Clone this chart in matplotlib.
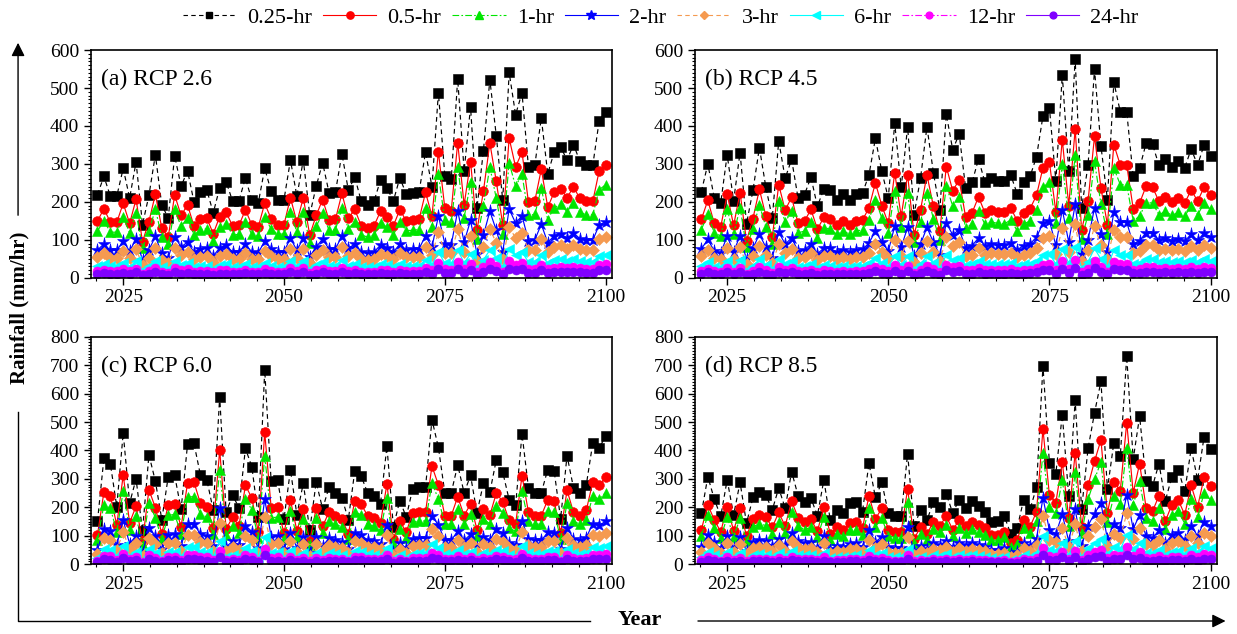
import matplotlib
matplotlib.use('Agg')
import matplotlib.pyplot as plt
from matplotlib.ticker import MultipleLocator
from matplotlib.lines import Line2D
from matplotlib.patches import FancyArrowPatch

plt.rcParams['font.family'] = ['Liberation Serif', 'DejaVu Serif']

# ===================== DATA =====================
years = list(range(2021, 2101))

# (a) RCP 2.6
r26_025 = [219, 267, 215, 215, 288, 210, 305, 140, 217, 324,
           191, 158, 321, 241, 282, 200, 226, 231, 171, 237,
           253, 202, 203, 263, 204, 197, 288, 228, 206, 206,
           310, 215, 310, 165, 241, 303, 224, 226, 327, 231,
           265, 202, 191, 202, 257, 237, 202, 263, 221, 224,
           226, 331, 240, 488, 269, 260, 524, 282, 450, 184,
           335, 522, 374, 204, 541, 430, 487, 292, 298, 421,
           274, 331, 345, 310, 351, 307, 296, 296, 414, 438]
r26_05 = [149, 182, 146, 146, 196, 143, 207, 95, 148, 220,
          130, 107, 218, 164, 192, 136, 154, 157, 116, 161,
          172, 137, 138, 179, 139, 134, 196, 155, 140, 140,
          211, 146, 211, 112, 164, 206, 152, 154, 222, 157,
          180, 137, 130, 137, 175, 161, 137, 179, 150, 152,
          154, 225, 163, 332, 183, 177, 356, 192, 306, 125,
          228, 355, 254, 139, 368, 292, 331, 199, 203, 286,
          186, 225, 235, 211, 239, 209, 201, 201, 282, 298]
r26_1 = [123, 150, 120, 120, 161, 118, 171, 78, 122, 181,
         107, 88, 180, 135, 158, 112, 127, 129, 96, 133,
         142, 113, 114, 147, 114, 110, 161, 128, 115, 115,
         174, 120, 174, 92, 135, 170, 125, 127, 183, 129,
         148, 113, 107, 113, 144, 133, 113, 147, 124, 125,
         127, 185, 134, 273, 151, 146, 293, 158, 252, 103,
         188, 292, 209, 114, 303, 241, 273, 164, 167, 236,
         153, 185, 193, 174, 197, 172, 166, 166, 232, 245]
r26_2 = [73, 89, 72, 72, 96, 70, 102, 47, 73, 109,
         64, 53, 108, 81, 94, 67, 76, 77, 57, 79,
         85, 68, 68, 88, 68, 66, 96, 76, 69, 69,
         104, 72, 104, 55, 81, 102, 75, 76, 110, 77,
         89, 68, 64, 68, 86, 79, 68, 88, 74, 75,
         76, 111, 80, 163, 90, 87, 176, 94, 151, 62,
         112, 175, 125, 68, 181, 144, 163, 98, 100, 141,
         92, 111, 116, 104, 118, 103, 99, 99, 139, 147]
r26_3 = [54, 65, 53, 53, 71, 51, 75, 34, 53, 79,
         47, 39, 79, 59, 69, 49, 55, 57, 42, 58,
         62, 49, 50, 64, 50, 48, 71, 56, 50, 50,
         76, 53, 76, 40, 59, 74, 55, 55, 80, 57,
         65, 49, 47, 49, 63, 58, 49, 64, 54, 55,
         55, 81, 59, 120, 66, 64, 128, 69, 110, 45,
         82, 128, 92, 50, 133, 105, 119, 72, 73, 103,
         67, 81, 85, 76, 86, 75, 73, 73, 101, 107]
r26_6 = [31, 37, 30, 30, 40, 29, 43, 20, 30, 45,
         27, 22, 45, 34, 39, 28, 32, 32, 24, 33,
         35, 28, 28, 37, 29, 28, 40, 32, 29, 29,
         43, 30, 43, 23, 34, 42, 31, 32, 46, 32,
         37, 28, 27, 28, 36, 33, 28, 37, 31, 31,
         32, 46, 34, 68, 38, 36, 73, 39, 63, 26,
         47, 73, 52, 29, 76, 60, 68, 41, 42, 59,
         38, 46, 48, 43, 49, 43, 41, 41, 58, 61]
r26_12 = [18, 21, 17, 17, 23, 17, 24, 11, 17, 26,
          15, 13, 26, 19, 23, 16, 18, 18, 14, 19,
          20, 16, 16, 21, 16, 16, 23, 18, 16, 16,
          25, 17, 25, 13, 19, 24, 18, 18, 26, 18,
          21, 16, 15, 16, 21, 19, 16, 21, 18, 18,
          18, 26, 19, 39, 22, 21, 42, 23, 36, 15,
          27, 42, 30, 16, 43, 34, 39, 23, 24, 34,
          22, 26, 28, 25, 28, 25, 24, 24, 33, 35]
r26_24 = [10, 12, 10, 10, 13, 9, 14, 6, 10, 15,
          9, 7, 14, 11, 13, 9, 10, 10, 8, 11,
          11, 9, 9, 12, 9, 9, 13, 10, 9, 9,
          14, 10, 14, 7, 11, 14, 10, 10, 15, 10,
          12, 9, 9, 9, 12, 11, 9, 12, 10, 10,
          10, 15, 11, 22, 12, 12, 24, 13, 20, 8,
          15, 23, 17, 9, 24, 19, 22, 13, 13, 19,
          12, 15, 16, 14, 16, 14, 13, 13, 19, 20]

# (b) RCP 4.5
r45_025 = [227, 300, 210, 197, 324, 203, 330, 142, 230, 343,
           239, 157, 360, 262, 312, 210, 219, 265, 188, 234,
           230, 204, 221, 204, 221, 223, 271, 367, 280, 210,
           407, 238, 398, 166, 262, 398, 277, 179, 431, 337,
           379, 236, 251, 313, 251, 262, 255, 254, 271, 221,
           251, 267, 319, 426, 448, 255, 535, 280, 576, 184,
           297, 549, 347, 206, 516, 437, 437, 267, 289, 354,
           352, 296, 312, 293, 308, 290, 339, 297, 350, 321]
r45_05 = [154, 204, 143, 134, 220, 138, 224, 97, 156, 233,
          163, 107, 245, 178, 212, 143, 149, 180, 128, 159,
          156, 139, 150, 139, 150, 152, 184, 250, 190, 143,
          277, 162, 271, 113, 178, 271, 188, 122, 293, 229,
          258, 160, 171, 213, 171, 178, 173, 173, 184, 150,
          171, 182, 217, 290, 305, 173, 364, 190, 392, 125,
          202, 373, 236, 140, 351, 297, 297, 182, 197, 241,
          239, 201, 212, 199, 209, 197, 231, 202, 238, 218]
r45_1 = [127, 168, 118, 110, 181, 114, 185, 80, 129, 192,
         134, 88, 202, 147, 175, 118, 123, 148, 105, 131,
         129, 114, 124, 114, 124, 125, 152, 206, 157, 118,
         228, 133, 223, 93, 147, 223, 155, 100, 241, 189,
         212, 132, 141, 175, 141, 147, 143, 142, 152, 124,
         141, 150, 179, 239, 251, 143, 300, 157, 323, 103,
         166, 307, 194, 115, 289, 245, 245, 150, 162, 198,
         197, 166, 175, 164, 172, 162, 190, 166, 196, 180]
r45_2 = [76, 101, 70, 66, 109, 68, 111, 48, 77, 115,
         80, 53, 121, 88, 105, 70, 73, 89, 63, 78,
         77, 68, 74, 68, 74, 75, 91, 123, 94, 70,
         136, 80, 133, 56, 88, 133, 93, 60, 144, 113,
         127, 79, 84, 105, 84, 88, 85, 85, 91, 74,
         84, 89, 107, 143, 150, 85, 179, 94, 193, 62,
         100, 184, 116, 69, 173, 146, 146, 89, 97, 119,
         118, 99, 105, 98, 103, 97, 114, 99, 117, 108]
r45_3 = [56, 74, 51, 48, 79, 50, 81, 35, 56, 84,
         59, 38, 88, 64, 76, 51, 54, 65, 46, 57,
         56, 50, 54, 50, 54, 55, 66, 90, 69, 51,
         100, 58, 98, 41, 64, 98, 68, 44, 106, 83,
         93, 58, 61, 77, 61, 64, 62, 62, 66, 54,
         61, 65, 78, 104, 110, 62, 131, 69, 141, 45,
         73, 135, 85, 50, 126, 107, 107, 65, 71, 87,
         86, 73, 76, 72, 75, 71, 83, 73, 86, 79]
r45_6 = [32, 42, 29, 28, 45, 28, 46, 20, 32, 48,
         33, 22, 50, 37, 44, 29, 31, 37, 26, 33,
         32, 29, 31, 29, 31, 31, 38, 51, 39, 29,
         57, 33, 56, 23, 37, 56, 39, 25, 60, 47,
         53, 33, 35, 44, 35, 37, 36, 36, 38, 31,
         35, 37, 45, 60, 63, 36, 75, 39, 81, 26,
         42, 77, 49, 29, 72, 61, 61, 37, 40, 50,
         49, 41, 44, 41, 43, 41, 47, 42, 49, 45]
r45_12 = [18, 24, 17, 16, 26, 16, 26, 11, 18, 27,
          19, 13, 29, 21, 25, 17, 18, 21, 15, 19,
          18, 16, 18, 16, 18, 18, 22, 29, 22, 17,
          33, 19, 32, 13, 21, 32, 22, 14, 34, 27,
          30, 19, 20, 25, 20, 21, 20, 20, 22, 18,
          20, 21, 26, 34, 36, 20, 43, 22, 46, 15,
          24, 44, 28, 16, 41, 35, 35, 21, 23, 28,
          28, 24, 25, 23, 25, 23, 27, 24, 28, 26]
r45_24 = [10, 14, 9, 9, 15, 9, 15, 6, 10, 15,
          11, 7, 16, 12, 14, 9, 10, 12, 8, 11,
          10, 9, 10, 9, 10, 10, 12, 17, 13, 9,
          18, 11, 18, 7, 12, 18, 12, 8, 19, 15,
          17, 11, 11, 14, 11, 12, 11, 11, 12, 10,
          11, 12, 14, 19, 20, 11, 24, 13, 26, 8,
          13, 25, 16, 9, 23, 20, 20, 12, 13, 16,
          16, 13, 14, 13, 14, 13, 15, 13, 16, 14]

# (c) RCP 6.0
r60_025 = [151, 373, 353, 203, 461, 215, 300, 117, 385, 292,
           157, 308, 312, 193, 421, 425, 314, 297, 190, 589,
           183, 242, 199, 407, 343, 166, 683, 291, 297, 160,
           332, 174, 285, 119, 289, 195, 271, 251, 234, 157,
           328, 310, 250, 240, 213, 415, 131, 224, 166, 265,
           271, 271, 508, 411, 251, 251, 349, 251, 312, 180,
           285, 253, 367, 324, 227, 207, 458, 269, 251, 251,
           333, 327, 160, 382, 269, 251, 280, 426, 409, 450]
r60_05 = [103, 254, 240, 138, 313, 146, 204, 80, 262, 199,
          107, 209, 212, 131, 286, 289, 214, 202, 129, 401,
          124, 165, 135, 277, 233, 113, 464, 198, 202, 109,
          226, 118, 194, 81, 197, 133, 184, 171, 159, 107,
          223, 211, 170, 163, 145, 282, 89, 152, 113, 180,
          184, 184, 345, 279, 171, 171, 237, 171, 212, 122,
          194, 172, 250, 220, 154, 141, 311, 183, 171, 171,
          226, 222, 109, 260, 183, 171, 190, 290, 278, 306]
r60_1 = [85, 209, 198, 114, 258, 120, 168, 66, 216, 164,
         88, 172, 175, 108, 236, 238, 176, 166, 106, 330,
         102, 136, 111, 228, 192, 93, 382, 163, 166, 90,
         186, 97, 160, 67, 162, 109, 152, 141, 131, 88,
         184, 174, 140, 134, 119, 232, 73, 125, 93, 148,
         152, 152, 284, 230, 141, 141, 195, 141, 175, 101,
         160, 142, 206, 181, 127, 116, 256, 151, 141, 141,
         186, 183, 90, 214, 151, 141, 157, 239, 229, 252]
r60_2 = [51, 125, 118, 68, 154, 72, 101, 39, 129, 98,
         53, 103, 105, 65, 141, 142, 105, 100, 64, 197,
         61, 81, 67, 136, 115, 56, 229, 97, 100, 54,
         111, 58, 95, 40, 97, 65, 91, 84, 78, 53,
         110, 104, 84, 80, 71, 139, 44, 75, 56, 89,
         91, 91, 170, 138, 84, 84, 117, 84, 105, 60,
         95, 85, 123, 109, 76, 69, 153, 90, 84, 84,
         112, 110, 54, 128, 90, 84, 94, 143, 137, 151]
r60_3 = [37, 91, 86, 50, 113, 53, 74, 29, 94, 72,
         38, 75, 76, 47, 103, 104, 77, 73, 47, 144,
         45, 59, 49, 100, 84, 41, 167, 71, 73, 39,
         81, 43, 70, 29, 71, 48, 66, 61, 57, 38,
         80, 76, 61, 59, 52, 102, 32, 55, 41, 65,
         66, 66, 124, 101, 61, 61, 85, 61, 76, 44,
         70, 62, 90, 79, 56, 51, 112, 66, 61, 61,
         82, 80, 39, 94, 66, 61, 69, 104, 100, 110]
r60_6 = [21, 52, 49, 28, 65, 30, 42, 16, 54, 41,
         22, 43, 44, 27, 59, 60, 44, 42, 27, 82,
         26, 34, 28, 57, 48, 23, 96, 41, 42, 22,
         46, 24, 40, 17, 40, 27, 38, 35, 33, 22,
         46, 43, 35, 34, 30, 58, 18, 31, 23, 37,
         38, 38, 71, 58, 35, 35, 49, 35, 44, 25,
         40, 35, 51, 45, 32, 29, 64, 38, 35, 35,
         47, 46, 22, 53, 38, 35, 39, 60, 57, 63]
r60_12 = [12, 30, 28, 16, 37, 17, 24, 9, 31, 23,
          13, 25, 25, 15, 34, 34, 25, 24, 15, 47,
          15, 19, 16, 33, 27, 13, 55, 23, 24, 13,
          27, 14, 23, 10, 23, 16, 22, 20, 19, 13,
          26, 25, 20, 19, 17, 33, 10, 18, 13, 21,
          22, 22, 41, 33, 20, 20, 28, 20, 25, 14,
          23, 20, 29, 26, 18, 17, 37, 22, 20, 20,
          27, 26, 13, 31, 22, 20, 22, 34, 33, 36]
r60_24 = [7, 17, 16, 9, 21, 10, 14, 5, 17, 13,
          7, 14, 14, 9, 19, 19, 14, 13, 9, 27,
          8, 11, 9, 18, 15, 7, 31, 13, 13, 7,
          15, 8, 13, 5, 13, 9, 12, 11, 11, 7,
          15, 14, 11, 11, 10, 19, 6, 10, 7, 12,
          12, 12, 23, 18, 11, 11, 16, 11, 14, 8,
          13, 11, 17, 15, 10, 9, 21, 12, 11, 11,
          15, 15, 7, 17, 12, 11, 13, 19, 18, 20]

# (d) RCP 8.5
r85_025 = [179, 308, 229, 168, 297, 173, 288, 144, 235, 253,
           243, 191, 268, 197, 326, 241, 218, 232, 171, 296,
           156, 191, 179, 214, 218, 185, 355, 235, 288, 180,
           168, 168, 389, 133, 191, 154, 220, 200, 247, 180,
           227, 197, 221, 204, 185, 150, 151, 169, 107, 127,
           227, 194, 270, 698, 357, 319, 526, 239, 576, 194,
           407, 532, 643, 264, 427, 381, 732, 369, 520, 293,
           274, 354, 224, 307, 332, 256, 407, 297, 448, 404]
r85_05 = [122, 209, 156, 114, 202, 118, 196, 98, 160, 172,
          165, 130, 182, 134, 222, 164, 148, 158, 116, 201,
          106, 130, 122, 146, 148, 126, 241, 160, 196, 122,
          114, 114, 265, 90, 130, 105, 150, 136, 168, 122,
          154, 134, 150, 139, 126, 102, 103, 115, 73, 86,
          154, 132, 184, 475, 243, 217, 358, 163, 392, 132,
          277, 362, 437, 180, 290, 259, 498, 251, 354, 199,
          186, 241, 152, 209, 226, 174, 277, 202, 305, 275]
r85_1 = [100, 172, 128, 94, 166, 97, 161, 81, 132, 142,
         136, 107, 150, 110, 183, 135, 122, 130, 96, 166,
         87, 107, 100, 120, 122, 104, 199, 132, 161, 101,
         94, 94, 218, 74, 107, 86, 123, 112, 138, 101,
         127, 110, 124, 114, 104, 84, 85, 95, 60, 71,
         127, 109, 151, 391, 200, 179, 295, 134, 323, 109,
         228, 298, 360, 148, 239, 213, 410, 207, 291, 164,
         153, 198, 125, 172, 186, 143, 228, 166, 251, 226]
r85_2 = [60, 103, 77, 56, 99, 58, 96, 48, 79, 85,
         81, 64, 90, 66, 109, 81, 73, 78, 57, 99,
         52, 64, 60, 72, 73, 62, 119, 79, 96, 60,
         56, 56, 130, 45, 64, 52, 74, 67, 83, 60,
         76, 66, 74, 68, 62, 50, 51, 57, 36, 43,
         76, 65, 90, 234, 120, 107, 176, 80, 193, 65,
         136, 178, 215, 88, 143, 128, 245, 124, 174, 98,
         92, 119, 75, 103, 111, 86, 136, 99, 150, 135]
r85_3 = [44, 75, 56, 41, 73, 42, 71, 35, 58, 62,
         60, 47, 66, 48, 80, 59, 53, 57, 42, 73,
         38, 47, 44, 52, 53, 45, 87, 58, 71, 44,
         41, 41, 95, 33, 47, 38, 54, 49, 61, 44,
         56, 48, 54, 50, 45, 37, 37, 41, 26, 31,
         56, 48, 66, 171, 87, 78, 129, 59, 141, 48,
         100, 130, 158, 65, 105, 93, 179, 90, 127, 72,
         67, 87, 55, 75, 81, 63, 100, 73, 110, 99]
r85_6 = [25, 43, 32, 24, 42, 24, 40, 20, 33, 35,
         34, 27, 38, 28, 46, 34, 31, 32, 24, 41,
         22, 27, 25, 30, 31, 26, 50, 33, 40, 25,
         24, 24, 54, 19, 27, 22, 31, 28, 35, 25,
         32, 28, 31, 29, 26, 21, 21, 24, 15, 18,
         32, 27, 38, 98, 50, 45, 74, 33, 81, 27,
         57, 74, 90, 37, 60, 53, 102, 52, 73, 41,
         38, 50, 31, 43, 46, 36, 57, 42, 63, 57]
r85_12 = [14, 25, 18, 13, 24, 14, 23, 12, 19, 20,
          19, 15, 21, 16, 26, 19, 17, 19, 14, 24,
          12, 15, 14, 17, 17, 15, 28, 19, 23, 14,
          13, 13, 31, 11, 15, 12, 18, 16, 20, 14,
          18, 16, 18, 16, 15, 12, 12, 14, 9, 10,
          18, 16, 22, 56, 29, 26, 42, 19, 46, 16,
          33, 43, 51, 21, 34, 30, 59, 30, 42, 23,
          22, 28, 18, 25, 27, 20, 33, 24, 36, 32]
r85_24 = [8, 14, 10, 8, 13, 8, 13, 6, 11, 11,
          11, 9, 12, 9, 15, 11, 10, 10, 8, 13,
          7, 9, 8, 10, 10, 8, 16, 11, 13, 8,
          8, 8, 18, 6, 9, 7, 10, 9, 11, 8,
          10, 9, 10, 9, 8, 7, 7, 8, 5, 6,
          10, 9, 12, 31, 16, 14, 24, 11, 26, 9,
          18, 24, 29, 12, 19, 17, 33, 17, 23, 13,
          12, 16, 10, 14, 15, 12, 18, 13, 20, 18]

durations = ['0.25-hr', '0.5-hr', '1-hr', '2-hr', '3-hr', '6-hr', '12-hr', '24-hr']

# ===================== STYLE =====================
colors = ['#000000', '#ff0000', '#00e600', '#0000ff', '#f59a50', '#00ffff', '#ff00ff', '#8000ff']
markers = ['s', 'o', '^', '*', 'D', '<', 'o', 'o']
msizes = [6.5, 7, 7.5, 9.5, 6, 7.5, 6.5, 6.5]
dashdot = (0, (6, 2, 1.5, 2))
dashed = (0, (4, 3))
linestyles = [dashed, '-', dashdot, '-', dashed, '-', dashdot, '-']

panels = [
    ('(a) RCP 2.6', [r26_025, r26_05, r26_1, r26_2, r26_3, r26_6, r26_12, r26_24], 600,
     [0.0736, 0.562, 0.4212, 0.359]),
    ('(b) RCP 4.5', [r45_025, r45_05, r45_1, r45_2, r45_3, r45_6, r45_12, r45_24], 600,
     [0.5618, 0.562, 0.4220, 0.359]),
    ('(c) RCP 6.0', [r60_025, r60_05, r60_1, r60_2, r60_3, r60_6, r60_12, r60_24], 800,
     [0.0736, 0.110, 0.4212, 0.359]),
    ('(d) RCP 8.5', [r85_025, r85_05, r85_1, r85_2, r85_3, r85_6, r85_12, r85_24], 800,
     [0.5618, 0.110, 0.4220, 0.359]),
]

# ===================== PLOT =====================
fig = plt.figure(figsize=(12.37, 6.34), dpi=100)

for title, series, ymax, pos in panels:
    ax = fig.add_axes(pos)
    for i, vals in enumerate(series):
        ax.plot(years, vals, color=colors[i], linestyle=linestyles[i], linewidth=0.85,
                marker=markers[i], markersize=msizes[i], markeredgewidth=0.4,
                markeredgecolor=colors[i], label=durations[i])
    ax.set_xlim(2020, 2101)
    ax.set_ylim(0, ymax)
    ax.set_xticks([2025, 2050, 2075, 2100])
    ax.xaxis.set_minor_locator(MultipleLocator(25 / 6))
    ax.yaxis.set_major_locator(MultipleLocator(100))
    ax.yaxis.set_minor_locator(MultipleLocator(10))
    ax.tick_params(which='major', direction='out', length=5, width=1.0, labelsize=14)
    ax.tick_params(which='minor', direction='out', length=2.5, width=0.8)
    for sp in ax.spines.values():
        sp.set_linewidth(1.2)
    ax.text(0.02, 0.87, title, transform=ax.transAxes, fontsize=17, va='center', ha='left')

handles = [Line2D([], [], color=colors[i], linestyle=linestyles[i], linewidth=0.8,
                  marker=markers[i], markersize=msizes[i] * 0.75) for i in range(8)]
fig.legend(handles, durations, loc='center', bbox_to_anchor=(0.534, 0.972), ncol=8,
           frameon=False, fontsize=16, handlelength=2.4, handletextpad=0.5,
           columnspacing=0.5)

# axis labels and decorative arrows
fig.text(0.016, 0.514, 'Rainfall (mm/hr)', rotation=90, fontsize=15, fontweight='bold',
         va='center', ha='center')
fig.text(0.517, 0.022, 'Year', fontsize=16, fontweight='bold', va='center', ha='center')

fig.add_artist(FancyArrowPatch((0.0146, 1 - 218 / 634), (0.0146, 1 - 40 / 634),
                               transform=fig.transFigure, arrowstyle='-|>',
                               mutation_scale=20, linewidth=1, color='k'))
fig.add_artist(Line2D([0.0146, 0.0146, 0.477], [1 - 412 / 634, 0.0205, 0.0205],
                      transform=fig.transFigure, color='k', linewidth=1))
fig.add_artist(FancyArrowPatch((0.562, 0.0205), (0.993, 0.0205),
                               transform=fig.transFigure, arrowstyle='-|>',
                               mutation_scale=20, linewidth=1, color='k'))

fig.savefig('out.png', dpi=100)
